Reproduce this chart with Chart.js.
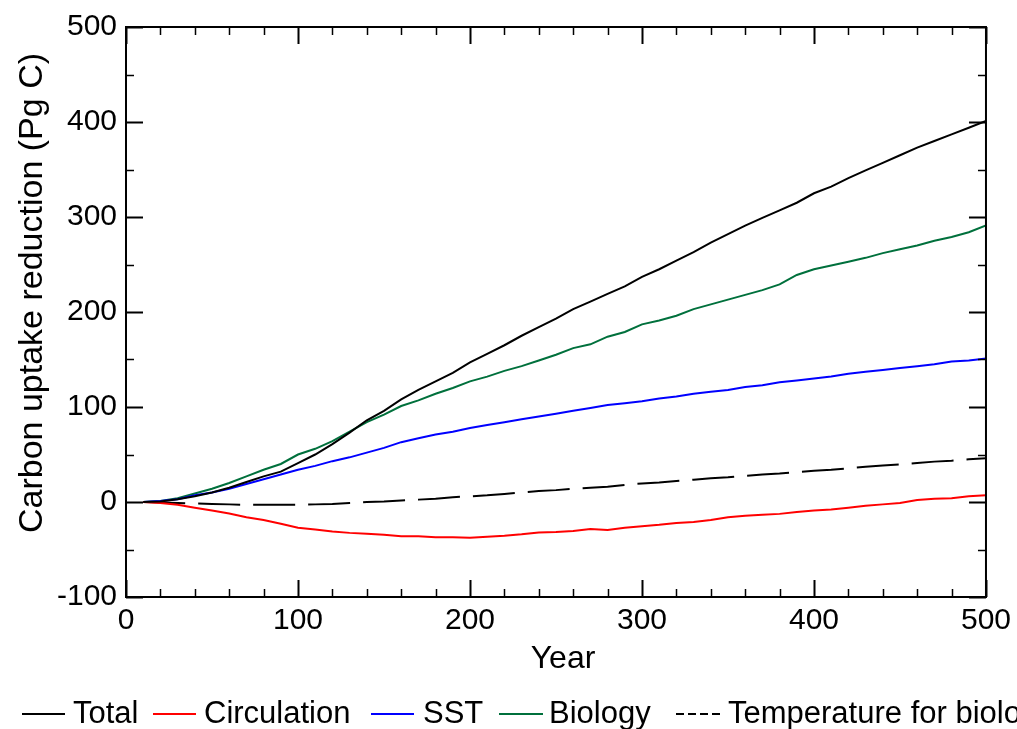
<!DOCTYPE html>
<html><head><meta charset="utf-8">
<script src="https://cdn.jsdelivr.net/npm/chart.js@4.4.1/dist/chart.umd.min.js"></script>
<style>html,body{margin:0;padding:0;background:#fff;overflow:hidden}#wrap{width:1017px;height:729px;position:relative}</style>
</head><body><div id="wrap"><canvas id="c"></canvas></div>
<script>
const years = [10,20,30,40,50,60,70,80,90,100,110,120,130,140,150,160,170,180,190,200,210,220,230,240,250,260,270,280,290,300,310,320,330,340,350,360,370,380,390,400,410,420,430,440,450,460,470,480,490,500];
const total = [0,0.5,3,6,10,15,21,27,32,41,50,61,73,86,96,108,118,127,136,147,156,165,175,184,193,203,211,219,227,237,245,254,263,273,282,291,299,307,315,325,332,341,349,357,365,373,380,387,394,401];
const circulation = [0,-1,-3,-6,-9,-12,-16,-19,-23,-27,-29,-31,-32.5,-33.5,-34.5,-36,-36,-37,-37,-37.5,-36.5,-35.5,-34,-32,-31.5,-30.5,-28.5,-29.5,-27,-25.5,-24,-22,-21,-19,-16,-14.5,-13.5,-12.5,-10.5,-9,-8,-6,-4,-2.5,-1,2,3.5,4,6,7];
const sst = [0,1,3,7,10,14,19,24,29,34,38,43,47,52,57,63,67,71,74,78,81,84,87,90,93,96,99,102,104,106,109,111,114,116,118,121,123,126,128,130,132,135,137,139,141,143,145,148,149,151];
const biology = [0,1,4,9,14,20,27,34,40,50,56,64,74,84,92,101,107,114,120,127,132,138,143,149,155,162,166,174,179,187,191,196,203,208,213,218,223,229,239,245,249,253,257,262,266,270,275,279,284,291];
const tempBiology = [0,-0.5,-1,-1.5,-2,-2.5,-3,-3,-3,-3,-2.5,-2,-1,0,0.5,1.5,2.5,3.5,5,6,7,8.5,10,11.5,12.5,14,15,16,18,19.5,20.5,22,23.5,25,26,27.5,29,30,31.5,33,34,35.5,37,38.5,39.5,41,42.5,43.5,45,46];
const xTicks = [0,100,200,300,400,500];
const yTicks = [-100,0,100,200,300,400,500];
const seriesLabels = ['Total','Circulation','SST','Biology','Temperature for biology'];
const seriesColors = ['#000000','#ff0000','#0000ff','#00703c','#000000'];
const xTitle = 'Year';
const yTitle = 'Carbon uptake reduction (Pg C)';

const FONT = '"Liberation Sans", Arial, Helvetica, sans-serif';
const pts = arr => years.map((yr,i)=>({x:yr,y:arr[i]}));
const allSeries = [total, circulation, sst, biology, tempBiology];

const frame = {
  id:'frame',
  afterDraw(chart){
    const {ctx, chartArea:a, scales:{x,y}} = chart;
    ctx.save();
    ctx.strokeStyle='#000';
    for(let v=0; v<=500; v+=20){
      const px = Math.round(x.getPixelForValue(v))+0.5;
      const len = (v%100===0)?17:8;
      ctx.lineWidth = (v%100===0)?2:1.5;
      ctx.beginPath();
      ctx.moveTo(px,a.bottom); ctx.lineTo(px,a.bottom-len);
      ctx.moveTo(px,a.top); ctx.lineTo(px,a.top+len);
      ctx.stroke();
    }
    for(let v=-100; v<=500; v+=50){
      const py = Math.round(y.getPixelForValue(v))+0.5;
      const len = (v%100===0)?17:8;
      ctx.lineWidth = (v%100===0)?2:1.5;
      ctx.beginPath();
      ctx.moveTo(a.left,py); ctx.lineTo(a.left+len,py);
      ctx.moveTo(a.right,py); ctx.lineTo(a.right-len,py);
      ctx.stroke();
    }
    ctx.lineWidth=2;
    ctx.strokeRect(a.left, a.top, a.right-a.left, a.bottom-a.top);
    // axis titles
    ctx.fillStyle='#000';
    ctx.font = '32px '+FONT;
    ctx.textAlign='center'; ctx.textBaseline='alphabetic';
    ctx.fillText(xTitle, 563, 668);
    ctx.save();
    ctx.translate(42, 293);
    ctx.rotate(-Math.PI/2);
    ctx.font = '34px '+FONT;
    ctx.fillText(yTitle, 0, 0);
    ctx.restore();
    // legend
    const items = [
      {x1:22,x2:65,tx:73},
      {x1:153,x2:196,tx:204},
      {x1:371,x2:414,tx:423},
      {x1:499,x2:543,tx:549},
      {x1:676,x2:720,tx:728,dash:[8,4]}
    ];
    ctx.font = '31px '+FONT;
    ctx.textAlign='left';
    items.forEach((it,i)=>{
      ctx.strokeStyle = seriesColors[i];
      ctx.lineWidth = 2;
      ctx.setLineDash(it.dash||[]);
      ctx.beginPath(); ctx.moveTo(it.x1,714); ctx.lineTo(it.x2,714); ctx.stroke();
      ctx.setLineDash([]);
      ctx.fillStyle='#000';
      ctx.fillText(seriesLabels[i], it.tx, 723);
    });
    ctx.restore();
  }
};

new Chart(document.getElementById('c'), {
  type:'line',
  data:{
    datasets: allSeries.map((arr,i)=>({
      label: seriesLabels[i],
      data: pts(arr),
      borderColor: seriesColors[i],
      backgroundColor: seriesColors[i],
      borderWidth: 2,
      borderDash: i===4 ? [42,13] : [],
      pointRadius: 0,
      tension: 0,
      fill: false
    }))
  },
  options:{
    responsive:true, maintainAspectRatio:false, animation:false, devicePixelRatio:1,
    layout:{padding:{left:0, top:23, right:28, bottom:0}},
    plugins:{legend:{display:false}, tooltip:{enabled:false}},
    scales:{
      x:{
        type:'linear', min:0, max:500,
        afterFit(s){ s.height = 132; },
        afterBuildTicks(s){ s.ticks = xTicks.map(v=>({value:v})); },
        grid:{display:false, drawTicks:false},
        border:{display:false},
        ticks:{color:'#000', font:{family:FONT, size:30}, padding:6, maxRotation:0, autoSkip:false,
          callback:(v)=>String(v)}
      },
      y:{
        type:'linear', min:-100, max:500,
        afterFit(s){ s.width = 126; },
        afterBuildTicks(s){ s.ticks = yTicks.map(v=>({value:v})); },
        grid:{display:false, drawTicks:false},
        border:{display:false},
        ticks:{color:'#000', font:{family:FONT, size:30}, padding:9, autoSkip:false,
          callback:(v)=>String(v)}
      }
    }
  },
  plugins:[frame]
});
</script></body></html>
